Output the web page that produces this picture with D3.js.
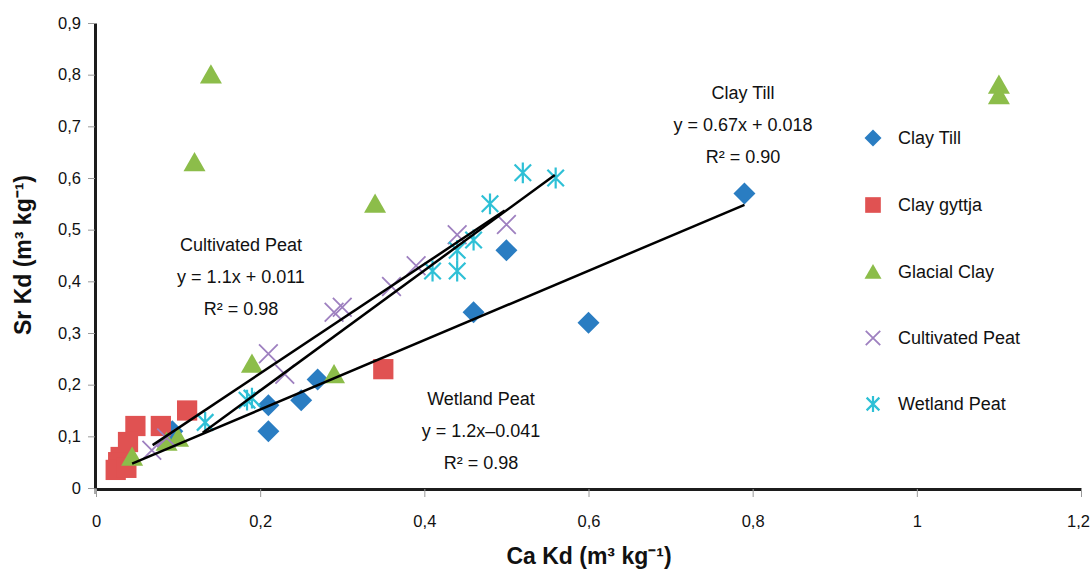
<!DOCTYPE html>
<html><head><meta charset="utf-8">
<script src="https://cdn.jsdelivr.net/npm/d3@7"></script>
<style>
body{margin:0;background:#fff}
text{font-family:"Liberation Sans",Arial,sans-serif;fill:#111}
</style>
</head><body>
<svg id="c" width="1091" height="572"></svg>
<script>
// ---------- data ----------
const xTickValues = [0, 0.2, 0.4, 0.6, 0.8, 1, 1.2];
const xTickLabels = ["0", "0,2", "0,4", "0,6", "0,8", "1", "1,2"];
const yTickValues = [0, 0.1, 0.2, 0.3, 0.4, 0.5, 0.6, 0.7, 0.8, 0.9];
const yTickLabels = ["0", "0,1", "0,2", "0,3", "0,4", "0,5", "0,6", "0,7", "0,8", "0,9"];

const seriesNames = ["Clay Till", "Clay gyttja", "Glacial Clay", "Cultivated Peat", "Wetland Peat"];

const clayTillX = [0.79, 0.60, 0.50, 0.46, 0.27, 0.25, 0.21, 0.21, 0.093];
const clayTillY = [0.57, 0.32, 0.46, 0.34, 0.21, 0.17, 0.16, 0.11, 0.11];

const clayGyttjaX = [0.35, 0.111, 0.048, 0.079, 0.039, 0.030, 0.027, 0.024, 0.037];
const clayGyttjaY = [0.23, 0.15, 0.12, 0.12, 0.089, 0.06, 0.05, 0.035, 0.039];

const glacialClayX = [0.14, 0.12, 0.34, 1.10, 1.10, 0.19, 0.29, 0.10, 0.086, 0.044];
const glacialClayY = [0.80, 0.63, 0.55, 0.78, 0.76, 0.24, 0.22, 0.097, 0.089, 0.06];

const cultivatedPeatX = [0.50, 0.44, 0.39, 0.36, 0.29, 0.30, 0.21, 0.23, 0.086, 0.068];
const cultivatedPeatY = [0.51, 0.49, 0.43, 0.39, 0.34, 0.35, 0.26, 0.22, 0.097, 0.073];

const wetlandPeatX = [0.52, 0.56, 0.48, 0.46, 0.44, 0.41, 0.44, 0.184, 0.19, 0.133];
const wetlandPeatY = [0.61, 0.60, 0.55, 0.48, 0.46, 0.42, 0.42, 0.17, 0.174, 0.127];

// trend lines (end points)
const trendNames = ["Clay Till", "Cultivated Peat", "Wetland Peat"];
const trendX0 = [0.044, 0.069, 0.13];
const trendY0 = [0.047, 0.083, 0.107];
const trendX1 = [0.79, 0.498, 0.559];
const trendY1 = [0.548, 0.537, 0.606];
const trendEquations = ["y = 0.67x + 0.018", "y = 1.1x + 0.011", "y = 1.2x\u20130.041"];
const trendR2 = ["R\u00b2 = 0.90", "R\u00b2 = 0.98", "R\u00b2 = 0.98"];

// ---------- layout / style ----------
const colors = ["#2a7dc2", "#e05252", "#8cbd4a", "#9e80c0", "#2ec0d6"];
const shapes = ["diamond", "square", "triangle", "x", "star"];
const labelPos = [[743, 93], [241, 245], [481, 399]]; // pixel centers of annotation blocks

const svg = d3.select("#c");
const x = d3.scaleLinear().domain([0, 1.2]).range([96, 1081]);
const y = d3.scaleLinear().domain([0, 0.9]).range([488, 23]);

// axes
const xAxis = svg.append("g").attr("transform", "translate(0,489)")
  .call(d3.axisBottom(x).tickValues(xTickValues).tickFormat((d, i) => xTickLabels[i]).tickSize(8).tickSizeOuter(0));
const yAxis = svg.append("g").attr("transform", "translate(95,0)")
  .call(d3.axisLeft(y).tickValues(yTickValues).tickFormat((d, i) => yTickLabels[i]).tickSize(7).tickSizeOuter(0));
[xAxis, yAxis].forEach(g => {
  g.selectAll(".tick line").attr("stroke", "#9a9a9a").attr("stroke-width", 1);
  g.selectAll(".tick text").style("font-size", "16.5px").attr("fill", "#111")
   .style("font-family", "'Liberation Sans',Arial,sans-serif");
  g.select(".domain").attr("stroke", "#1c1c1c").attr("stroke-width", 3);
});
xAxis.selectAll(".tick text").attr("dy", "1.65em");
xAxis.selectAll(".tick text").filter((d, i) => i === xTickValues.length - 1).attr("dx", "-3");
yAxis.selectAll(".tick text").attr("x", -14);
// extend y axis slightly below x axis as in original
svg.append("line").attr("x1", 95).attr("x2", 95).attr("y1", 488).attr("y2", 494)
  .attr("stroke", "#555").attr("stroke-width", 1);

// axis titles
svg.append("text").attr("x", 589).attr("y", 564).attr("text-anchor", "middle")
  .style("font-size", "23px").style("font-weight", "bold").text("Ca Kd (m\u00b3 kg\u207b\u00b9)");
svg.append("text").attr("transform", "translate(31,255) rotate(-90)").attr("text-anchor", "middle")
  .style("font-size", "23px").style("font-weight", "bold").text("Sr Kd (m\u00b3 kg\u207b\u00b9)");

// marker drawing
function marker(g, shape, color, s) {
  if (shape === "diamond") {
    g.append("path").attr("d", `M0,${-s}L${s},0L0,${s}L${-s},0Z`).attr("fill", color);
  } else if (shape === "square") {
    g.append("rect").attr("x", -s * 0.92).attr("y", -s * 0.92).attr("width", s * 1.84).attr("height", s * 1.84).attr("fill", color);
  } else if (shape === "triangle") {
    g.append("path").attr("d", `M0,${-s * 0.95}L${s},${s * 0.8}L${-s},${s * 0.8}Z`).attr("fill", color);
  } else if (shape === "x") {
    const r = s * 0.85;
    g.append("path").attr("d", `M${-r},${-r}L${r},${r}M${-r},${r}L${r},${-r}`)
      .attr("stroke", color).attr("stroke-width", 1.8).attr("fill", "none");
  } else if (shape === "star") {
    const r = s * 0.75;
    g.append("path").attr("d", `M${-r},${-r}L${r},${r}M${-r},${r}L${r},${-r}M0,${-s * 0.95}L0,${s * 0.95}`)
      .attr("stroke", color).attr("stroke-width", 2.2).attr("fill", "none");
  }
}

const seriesX = [clayTillX, clayGyttjaX, glacialClayX, cultivatedPeatX, wetlandPeatX];
const seriesY = [clayTillY, clayGyttjaY, glacialClayY, cultivatedPeatY, wetlandPeatY];

seriesNames.forEach((name, si) => {
  const pts = seriesX[si].map((vx, i) => ({x: vx, y: seriesY[si][i]}));
  const g = svg.append("g").attr("class", "series");
  g.selectAll("g").data(pts).join("g")
    .attr("transform", d => `translate(${x(d.x)},${y(d.y)})`)
    .each(function () { marker(d3.select(this), shapes[si], colors[si], 11); });
});

// trend lines
trendNames.forEach((n, i) => {
  svg.append("line")
    .attr("x1", x(trendX0[i])).attr("y1", y(trendY0[i]))
    .attr("x2", x(trendX1[i])).attr("y2", y(trendY1[i]))
    .attr("stroke", "#000").attr("stroke-width", 2.5);
});

// trend annotations
trendNames.forEach((n, i) => {
  const [cx, cy] = labelPos[i];
  const lines = [n, trendEquations[i], trendR2[i]];
  lines.forEach((t, j) => {
    svg.append("text").attr("x", cx).attr("y", cy + j * 32).attr("dy", "0.35em")
      .attr("text-anchor", "middle").style("font-size", "18px").text(t);
  });
});

// legend
const legY = [138, 205, 272, 338, 404];
seriesNames.forEach((name, i) => {
  const g = svg.append("g").attr("transform", `translate(873,${legY[i]})`);
  marker(g, shapes[i], colors[i], 8.5);
  g.append("text").attr("x", 25).attr("dy", "0.35em").style("font-size", "18px").text(name);
});
</script>
</body></html>
